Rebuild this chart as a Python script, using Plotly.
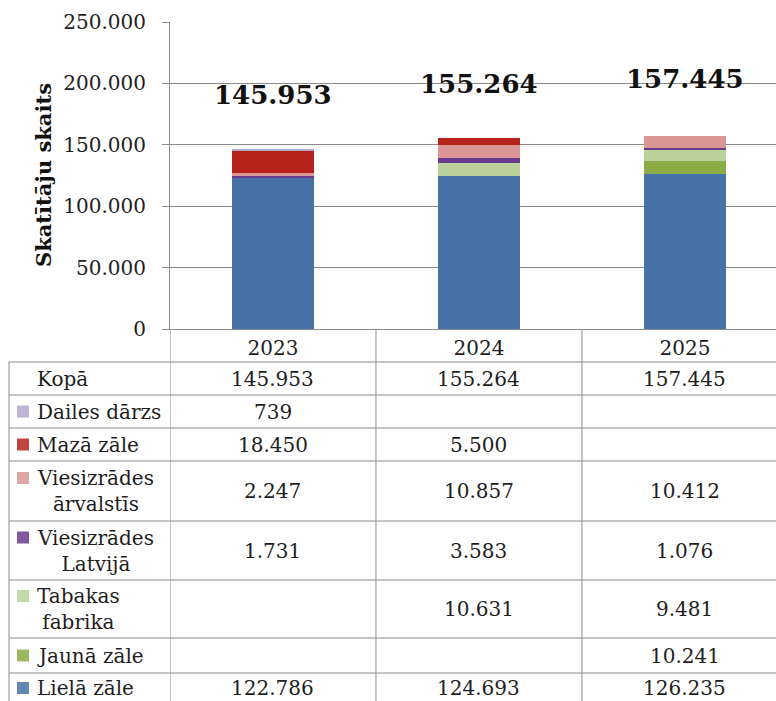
import plotly.graph_objects as go

# ---------------- data ----------------
years = ["2023", "2024", "2025"]
lielaa_zale = [122786, 124693, 126235]
jauna_zale = [None, None, 10241]
tabakas_fabrika = [None, 10631, 9481]
viesizrades_latvija = [1731, 3583, 1076]
viesizrades_arvalstis = [2247, 10857, 10412]
maza_zale = [18450, 5500, None]
dailes_darzs = [739, None, None]
kopa = [145953, 155264, 157445]
y_ticks = [0, 50000, 100000, 150000, 200000, 250000]
y_title = "Skatītāju skaits"
total_label = "Kopā"

# stack order bottom -> top
series = [
    ("Lielā zāle", lielaa_zale, "#4672a8"),
    ("Jaunā zāle", jauna_zale, "#8aab45"),
    ("Tabakas fabrika", tabakas_fabrika, "#bcd29c"),
    ("Viesizrādes Latvijā", viesizrades_latvija, "#6a3b8c"),
    ("Viesizrādes ārvalstīs", viesizrades_arvalstis, "#d99694"),
    ("Mazā zāle", maza_zale, "#b5231b"),
    ("Dailes dārzs", dailes_darzs, "#b3a8cc"),
]

# ---------------- layout constants ----------------
W, H = 776, 701
PLOT_L, PLOT_T, AXIS_Y = 170, 22, 329
TABLE_L = 9
FONT = "DejaVu Serif"
TXT = "#1e1e1e"
GRID = "#8c8c8c"
FS = 20

def fmt(v):
    return "" if v is None else f"{v:,}".replace(",", ".")

fig = go.Figure()
for name, vals, col in series:
    fig.add_trace(go.Bar(x=years, y=vals, name=name, marker=dict(color=col, line=dict(width=0)),
                         showlegend=False))

# totals above bars (x as category index)
total_shift = [55, 54, 57]
for i, yr in enumerate(years):
    fig.add_annotation(x=i, y=kopa[i], xref="x", yref="y", text=f"<b>{fmt(kopa[i])}</b>", showarrow=False,
                       yshift=total_shift[i], font=dict(family=FONT, size=26, color="#111"),
                       xanchor="center", yanchor="middle")

# y-axis title
fig.add_annotation(x=43 / W, y=1 - 175 / H, xref="paper", yref="paper", text=f"<b>{y_title}</b>",
                   textangle=-90, showarrow=False, font=dict(family=FONT, size=21, color="#111"),
                   xanchor="center", yanchor="middle")

# ---------------- data table (below axis) ----------------
table_rows = [(total_label, kopa, None)] + [(n, v, c) for n, v, c in reversed(series)]
row_heights = [33, 33, 33, 60, 59, 58, 35, 30]
header_h = 33
table_h = H - AXIS_Y

def wrap(name):
    if name in ("Viesizrādes ārvalstīs", "Viesizrādes Latvijā", "Tabakas fabrika"):
        a, b = name.split(" ", 1)
        return a + "<br>" + b
    return name

shapes = []
line = dict(color=GRID, width=1)
top = header_h
for (name, vals, col), rh in zip(table_rows, row_heights):
    shapes.append(dict(type="line", xref="paper", yref="y2", x0=TABLE_L / W, x1=1, y0=top, y1=top, line=line))
    mid = top + rh / 2
    multi = "<br>" in wrap(name)
    fig.add_annotation(x=35 / W, y=mid, xref="paper", yref="y2", text=wrap(name), showarrow=False,
                       xanchor="left", yanchor="middle", align="center",
                       font=dict(family=FONT, size=FS, color=TXT))
    if col is not None:
        ky = mid - 13 if multi else mid
        shapes.append(dict(type="rect", xref="paper", yref="y2", x0=17 / W, x1=29 / W,
                           y0=ky - 6, y1=ky + 6, fillcolor=col, line=dict(width=0), opacity=0.85))
    for i, yr in enumerate(years):
        if vals[i] is not None:
            fig.add_annotation(x=i, y=mid, xref="x", yref="y2", text=fmt(vals[i]), showarrow=False,
                               xanchor="center", yanchor="middle",
                               font=dict(family=FONT, size=FS, color=TXT))
    top += rh

for xv in [-0.5, 0.5, 1.5]:
    shapes.append(dict(type="line", xref="x", yref="y2", x0=xv, x1=xv, y0=0, y1=table_h, line=line))
shapes.append(dict(type="line", xref="paper", yref="y2", x0=TABLE_L / W, x1=TABLE_L / W,
                   y0=header_h, y1=table_h, line=line))

fig.update_layout(
    template="none",
    width=W, height=H,
    margin=dict(l=0, r=0, t=0, b=0, pad=0, autoexpand=False),
    paper_bgcolor="white", plot_bgcolor="white",
    barmode="stack", bargap=0.6,
    separators=",.",
    shapes=shapes,
    xaxis=dict(domain=[PLOT_L / W, 1], range=[-0.5, 2.442], type="category", automargin=False,
               showline=True, linecolor=GRID, linewidth=1, ticks="", showgrid=False,
               tickfont=dict(family=FONT, size=FS, color=TXT), ticklabelstandoff=1),
    yaxis=dict(domain=[1 - AXIS_Y / H, 1 - PLOT_T / H], range=[0, 250000], tickvals=y_ticks,
               tickformat=",d", showline=True, linecolor=GRID, linewidth=1, automargin=False,
               showgrid=True, gridcolor=GRID, gridwidth=1, zeroline=False,
               ticks="outside", ticklen=7, tickcolor=GRID, ticklabelstandoff=12,
               tickfont=dict(family=FONT, size=FS, color=TXT)),
    yaxis2=dict(domain=[0, 1 - AXIS_Y / H], range=[table_h, 0], visible=False, anchor="x",
                automargin=False),
)

fig.write_html("out.html", config={"displayModeBar": False},
               post_script="document.body.style.margin='0px';")
